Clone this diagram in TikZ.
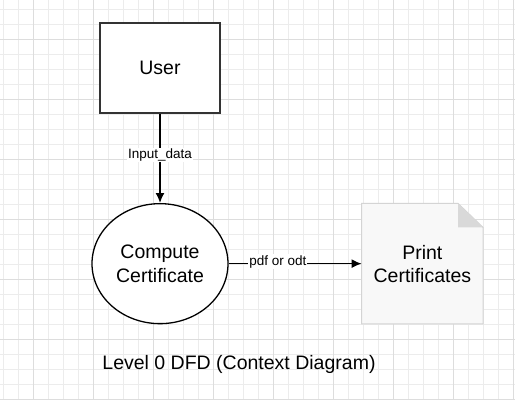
\documentclass[tikz,border=0pt]{standalone}
\usepackage{fontspec}
\setmainfont{Liberation Sans}
\usepackage{tikz}
\usetikzlibrary{positioning, shapes.geometric, arrows.meta}
\definecolor{grid_minor}{RGB}{236,236,236}
\definecolor{grid_major}{RGB}{221,221,221}
\definecolor{box_gray}{RGB}{51,51,51}
\definecolor{doc_border}{RGB}{212,212,212}
\definecolor{doc_fill}{RGB}{248,248,248}
\definecolor{fold_gray}{RGB}{217,217,217}
\tikzstyle{entity} = [rectangle, minimum width=120pt, minimum height=90pt, text centered,
                    line width=2pt, draw=box_gray, fill=white, font=\fontsize{19.5}{24}\selectfont]
\tikzstyle{process} = [ellipse, minimum width=136pt, minimum height=120pt, align=center,
                    line width=1.3pt, draw=black, fill=white, font=\fontsize{19.5}{24}\selectfont]
\tikzstyle{document} = [rectangle, minimum width=121pt, minimum height=120pt, align=center,
                    font=\fontsize{19.5}{23}\selectfont]
\tikzstyle{arrow} = [line width=1.6pt,-{Latex[length=10pt, width=9pt]}, black]
\tikzstyle{flowlabel} = [fill=white, inner sep=1pt, font=\fontsize{13.5}{16}\selectfont]

\begin{document}
\begin{tikzpicture}[x=1pt, y=-1pt]

    \useasboundingbox (0,0) rectangle (515,400);
    \fill[white] (0,0) rectangle (515,400);

    % grid
    \foreach \gx in {3,18,...,513} \draw[grid_minor, line width=1pt] (\gx,0) -- (\gx,400);
    \foreach \gy in {9,24,...,399} \draw[grid_minor, line width=1pt] (0,\gy) -- (515,\gy);
    \foreach \gx in {33,93,...,513} \draw[grid_major, line width=1pt] (\gx,0) -- (\gx,400);
    \foreach \gy in {39,99,...,399} \draw[grid_major, line width=1pt] (0,\gy) -- (515,\gy);

    \node[entity] (user) at (160,68) {User};
    \node[process] (compute) [below=89pt of user] {Compute\\Certificate};
    \node[document] (print) [right=133pt of compute] {Print\\Certificates};

    % document shape with folded corner
    \draw[doc_border, fill=doc_fill, line width=1pt] (print.north west) -- ([xshift=-25pt]print.north east)
        -- ([yshift=-24pt]print.north east) -- (print.south east) -- (print.south west) -- cycle;
    \fill[fold_gray] ([xshift=-25pt]print.north east) -- ([yshift=-24pt]print.north east)
        -- ([xshift=-25pt, yshift=-24pt]print.north east) -- cycle;
    \node[document] at (print) {Print\\Certificates};

    \draw[arrow] (user) to node[flowlabel, pos=0.46] {Input\_data} (compute);
    \draw[arrow] (compute) to node[flowlabel, pos=0.37, yshift=2pt] {pdf or odt} (print);

    \node (title) at (239,364) {\fontsize{19.5}{24}\selectfont Level 0 DFD (Context Diagram)};

\end{tikzpicture}
\end{document}
